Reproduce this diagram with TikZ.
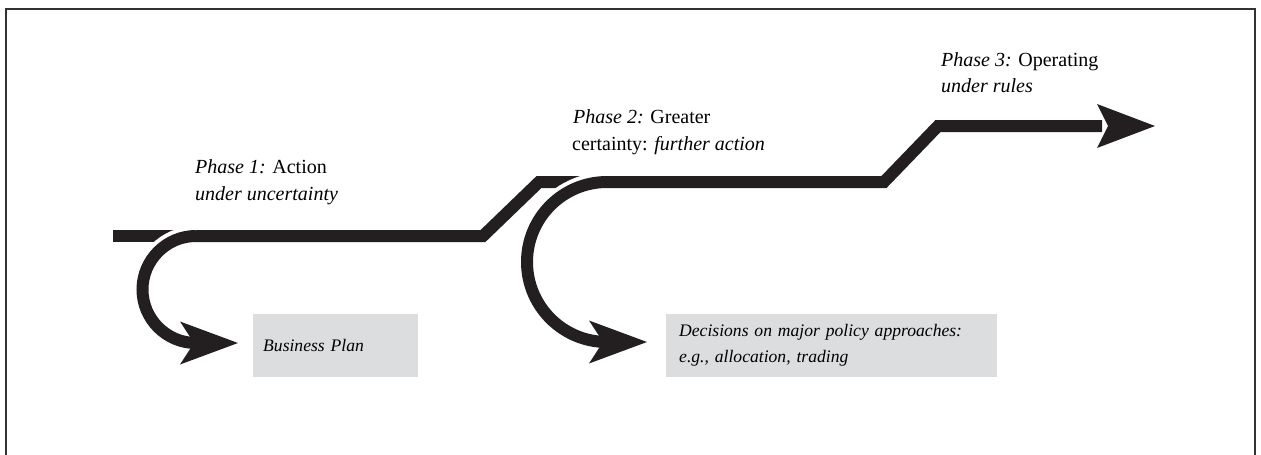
\documentclass[tikz,border=0pt]{standalone}
\usepackage{fontspec}
\setmainfont{Liberation Serif}
\definecolor{ink}{HTML}{231F20}
\definecolor{boxgray}{HTML}{DCDDDE}
\definecolor{framegray}{HTML}{333333}
\begin{document}
\begin{tikzpicture}[x=1pt,y=-1pt,
  flow/.style={draw=ink,line width=12pt,line cap=butt,line join=miter},
  halo/.style={preaction={draw=white,line width=20pt}},
  head/.style={fill=ink,draw=none},
  lbl/.style={anchor=base west,inner sep=0pt,font=\fontsize{20}{26}\selectfont},
  gbox/.style={fill=boxgray,draw=none,minimum height=63pt,align=left,anchor=north west,
    font=\fontsize{17.6}{26}\selectfont\itshape,inner ysep=0pt}]
\useasboundingbox (0,0) rectangle (1261,455);
\clip (0,0) rectangle (1261,455);
% frame
\draw[framegray,line width=1.6pt] (6,470) -- (6,9) -- (1255,9) -- (1255,470);
% coordinates
\coordinate (s0) at (113,236);
\coordinate (t1) at (196,236);
\coordinate (c1a) at (483,236);
\coordinate (c1b) at (539,182);
\coordinate (e1) at (592,182);
\coordinate (t2) at (607,182);
\coordinate (c2a) at (884,182);
\coordinate (c2b) at (938,126);
\coordinate (e3) at (1102,126);
% boxes
\node[gbox,minimum width=165pt,text width=145pt,inner xsep=10pt] (bp) at (253,314) {Business Plan};
\node[gbox,minimum width=329pt,text width=305pt,inner xsep=13pt] (dec) at (666,314)
  {Decisions on major policy approaches:\\e.g., allocation, trading};
% stub and line 1
\draw[flow] (s0) -- (t1);
% arc 1 with halo
\draw[flow,halo] (t1) arc[start angle=270,end angle=90,radius=53.5] -- ++(4,0) coordinate (n1);
\fill[head] (238,343) -- (180,321.5) -- (194,343) -- (180,364.5) -- cycle;
% main line 1
\draw[flow] (t1) -- (c1a) -- (c1b) -- (e1);
% arc 2 with halo
\draw[flow,halo] (t2) arc[start angle=270,end angle=90,radius=80] coordinate (n2);
\fill[head] (647,342) -- (589,320.5) -- (603,342) -- (589,363.5) -- cycle;
% main line 2
\draw[flow] (t2) -- (c2a) -- (c2b) -- (e3);
\fill[head] (1155,126) -- (1097,104) -- (1108,126) -- (1097,148) -- cycle;
% labels
\node[lbl] (p1a) at (195,173) {\textit{Phase 1:} Action};
\node[lbl] (p1b) at (195,200) {\textit{under uncertainty}};
\node[lbl] (p2a) at (573,123) {\textit{Phase 2:} Greater};
\node[lbl] (p2b) at (572,150) {certainty: \textit{further action}};
\node[lbl] (p3a) at (941,66) {\textit{Phase 3:} Operating};
\node[lbl] (p3b) at (941,92) {\textit{under rules}};
\end{tikzpicture}
\end{document}
